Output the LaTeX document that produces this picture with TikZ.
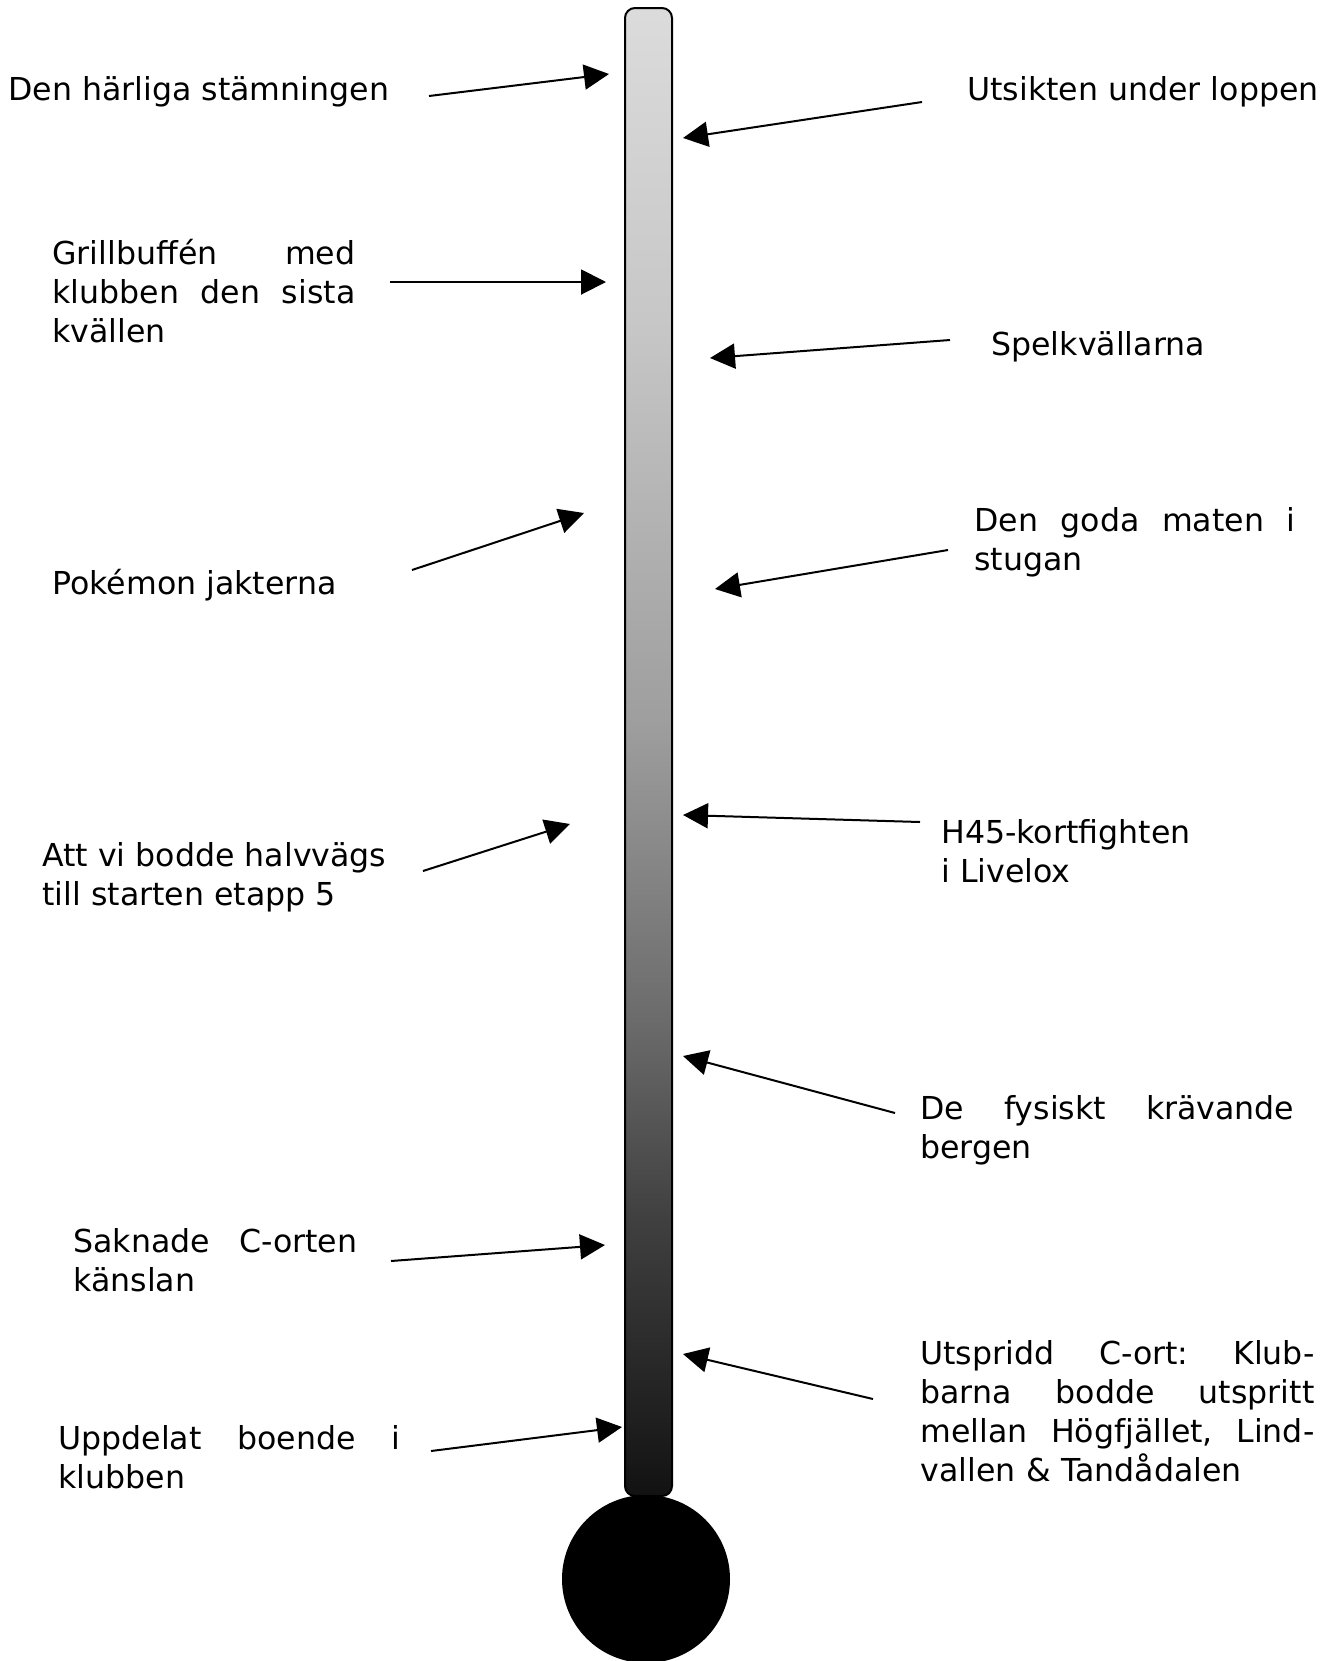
\documentclass[tikz,border=0pt]{standalone}
\usepackage{fontspec}
\setmainfont{DejaVu Sans}
\usetikzlibrary{arrows.meta}
\newcommand{\jline}[2]{\leavevmode\hbox to #1{#2}}
\pgfdeclareverticalshading{tubeshade}{100bp}{color(0bp)=(black!93); color(25bp)=(black!93); color(27.5bp)=(black!88); color(34.3bp)=(black!75); color(41bp)=(black!58); color(51bp)=(black!38); color(64.5bp)=(black!22); color(75bp)=(black!14); color(100bp)=(black!14)}
\tikzset{
	lbl/.style={inner sep=0pt,anchor=base west,font=\fontsize{15.8}{19.5}\selectfont},
	pil/.style={line width=1pt,-{Triangle[length=12.5pt,width=12.5pt]}}
}

\begin{document}
\begin{tikzpicture}[x=0.5pt,y=-0.5pt]
	\useasboundingbox (0,0) rectangle (1338,1661);
	% the thermometer
	\shadedraw[shading=tubeshade,draw=black,line width=1pt,rounded corners=5pt] (625,8) rectangle (672,1496);
	\fill (646,1579) circle (84);
	% left side
	\node[lbl] (stamning) at (8,100){Den härliga stämningen};
	\coordinate (s1) at (429,96);
	\coordinate (e1) at (609,74);
	\draw[pil] (s1)--(e1);
	\node[lbl,text width=151.5pt] (grill) at (52,264){\jline{151.5pt}{Grillbuffén\hfill med}\\\jline{151.5pt}{klubben\hfill den\hfill sista}\\kvällen};
	\coordinate (s3) at (390,282);
	\coordinate (e3) at (606,282);
	\draw[pil] (s3)--(e3);
	\node[lbl] (pokemon) at (52,594){Pokémon jakterna};
	\coordinate (s5) at (412,570);
	\coordinate (e5) at (584,513);
	\draw[pil] (s5)--(e5);
	\node[lbl,align=left] (halvvags) at (42,905){Att vi bodde halvvägs\\till starten etapp 5};
	\coordinate (s7) at (423,871);
	\coordinate (e7) at (570,824);
	\draw[pil] (s7)--(e7);
	\node[lbl,text width=142pt] (corten) at (73,1252){\jline{142pt}{Saknade\hfill C-orten}\\känslan};
	\coordinate (s10) at (391,1261);
	\coordinate (e10) at (605,1245);
	\draw[pil] (s10)--(e10);
	\node[lbl,text width=171pt] (boende) at (58,1449){\jline{171pt}{Uppdelat\hfill boende\hfill i}\\klubben};
	\coordinate (s12) at (431,1451);
	\coordinate (e12) at (622,1427);
	\draw[pil] (s12)--(e12);
	% right side
	\node[lbl] (utsikt) at (967,100){Utsikten under loppen};
	\coordinate (s2) at (922,102);
	\coordinate (e2) at (683,138);
	\draw[pil] (s2)--(e2);
	\node[lbl] (spel) at (991,355){Spelkvällarna};
	\coordinate (s4) at (950,340);
	\coordinate (e4) at (710,358);
	\draw[pil] (s4)--(e4);
	\node[lbl,text width=160.5pt] (maten) at (974,531){\jline{160.5pt}{Den\hfill goda\hfill maten\hfill i}\\stugan};
	\coordinate (s6) at (948,550);
	\coordinate (e6) at (715,589);
	\draw[pil] (s6)--(e6);
	\node[lbl,align=left] (kortfight) at (941,882){H45-kortfighten\\i Livelox};
	\coordinate (s8) at (920,822);
	\coordinate (e8) at (683,815);
	\draw[pil] (s8)--(e8);
	\node[lbl,text width=187pt] (bergen) at (920,1119){\jline{187pt}{De\hfill fysiskt\hfill krävande}\\bergen};
	\coordinate (s9) at (895,1113);
	\coordinate (e9) at (683,1056);
	\draw[pil] (s9)--(e9);
	\node[lbl,text width=197pt] (utspridd) at (920,1364){\jline{197pt}{Utspridd\hfill C-ort:\hfill Klub-}\\\jline{197pt}{barna\hfill bodde\hfill utspritt}\\\jline{197pt}{mellan\hfill Högfjället,\hfill Lind-}\\vallen \& Tandådalen};
	\coordinate (s11) at (873,1399);
	\coordinate (e11) at (683,1354);
	\draw[pil] (s11)--(e11);
\end{tikzpicture}
\end{document}
